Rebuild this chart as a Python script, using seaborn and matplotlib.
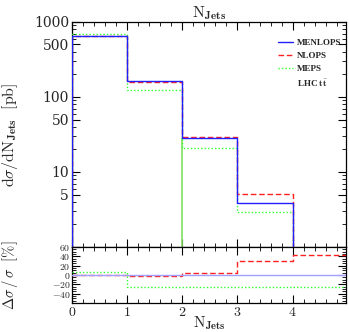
import matplotlib
matplotlib.use("Agg")
import matplotlib.pyplot as plt
import pandas as pd
import seaborn as sns
from matplotlib.lines import Line2D
from matplotlib.ticker import FixedLocator, FixedFormatter, MultipleLocator, NullFormatter

# bin edges of the N_Jets histogram
edges = [0, 1, 2, 3, 4, 5]

# main panel, d sigma / d N_Jets [pb]
menlops = [650, 163, 28.1, 3.9, 0.5]
nlops = [650, 160, 29.4, 5.1, 0.7]
meps = [700, 122, 21.0, 2.95, 0.37]

# ratio panel, delta sigma / sigma [%] with respect to MENLOPS
ratio_menlops = [0, 0, 0, 0, 0]
ratio_nlops = [0, -2, 4, 30, 42]
ratio_meps = [6, -25, -26, -26, -26]

y_ticks = [5, 10, 50, 100, 500, 1000]
y_ticklabels = ["5", "10", "50", "100", "500", "1000"]
r_ticks = [-40, -20, 0, 20, 40, 60]
r_ticklabels = ["$-40$", "$-20$", "$0$", "$20$", "$40$", "$60$"]
x_ticks = [0, 1, 2, 3, 4]

names = ["MENLOPS", "NLOPS", "MEPS"]
colors = {"MENLOPS": "#2020ff", "NLOPS": "#ff2020", "MEPS": "#30ff30"}
ratio_colors = {"MENLOPS": "#a0a0ff", "NLOPS": "#ff2020", "MEPS": "#30ff30"}
dashes = {"MENLOPS": "", "NLOPS": (4, 2), "MEPS": (1, 1.5)}
layer = {"MENLOPS": 5, "NLOPS": 4, "MEPS": 3}

sns.set_theme(style="ticks")
plt.rcParams["mathtext.fontset"] = "cm"
plt.rcParams["font.family"] = ["DejaVu Serif"]


def steps_frame(series, floor=None):
    rows = []
    for name, vals in series.items():
        xs = list(edges)
        ys = list(vals) + [vals[-1]]
        if floor is not None:
            xs = [edges[0]] + xs
            ys = [floor] + ys
        for x, y in zip(xs, ys):
            rows.append({"x": x, "y": y, "gen": name})
    return pd.DataFrame(rows)


def draw_steps(a, df, palette):
    # one lineplot call per generator so the stacking order is under control
    for name in ["MEPS", "NLOPS", "MENLOPS"]:
        sub = df[df["gen"] == name]
        sns.lineplot(data=sub, x="x", y="y", color=palette[name],
                     drawstyle="steps-post", sort=False, estimator=None,
                     lw=1.0, ax=a, legend=False)
        line = a.get_lines()[-1]
        if dashes[name]:
            line.set_dashes(dashes[name])
        line.set_zorder(layer[name])


fig = plt.figure(figsize=(3.49, 3.32), dpi=100)
ax = fig.add_axes([0.206, 0.256, 0.786, 0.678])
axr = fig.add_axes([0.206, 0.087, 0.786, 0.169], sharex=ax)

main_df = steps_frame({"MEPS": meps, "NLOPS": nlops, "MENLOPS": menlops}, floor=1e-3)
draw_steps(ax, main_df, colors)
ax.set_yscale("log")
# the MEPS edge at N_Jets = 2 drawn down to the axis
ax.vlines(edges[2], 1e-3, menlops[2], color="#80e060", lw=1.2, zorder=2)

ax.set_xlim(0, 4.97)
ax.set_ylim(1, 1000)
ax.yaxis.set_major_locator(FixedLocator(y_ticks))
ax.yaxis.set_major_formatter(FixedFormatter(y_ticklabels))
ax.yaxis.set_minor_locator(FixedLocator([2, 3, 4, 6, 7, 8, 9, 20, 30, 40, 60, 70, 80, 90,
                                         200, 300, 400, 600, 700, 800, 900]))
ax.yaxis.set_minor_formatter(NullFormatter())
ax.xaxis.set_major_locator(FixedLocator(x_ticks))
ax.xaxis.set_minor_locator(MultipleLocator(0.2))
ax.tick_params(axis="x", labelbottom=False)
ax.set_xlabel("")
ax.set_ylabel(r"$\mathrm{d}\sigma/\mathrm{dN}_{\mathbf{Jets}}\ \ [\mathrm{pb}]$", fontsize=11.5)
ax.yaxis.set_label_coords(-0.19, 0.5)
ax.set_title(r"$\mathrm{N}_{\mathbf{Jets}}$", fontsize=11.5, pad=2)

ratio_df = steps_frame({"MENLOPS": ratio_menlops, "MEPS": ratio_meps, "NLOPS": ratio_nlops})
draw_steps(axr, ratio_df, ratio_colors)
axr.set_ylim(-60, 60)
axr.yaxis.set_major_locator(FixedLocator(r_ticks))
axr.yaxis.set_major_formatter(FixedFormatter(r_ticklabels))
axr.yaxis.set_minor_locator(MultipleLocator(5))
axr.xaxis.set_major_formatter(FixedFormatter(["$%d$" % t for t in x_ticks]))
axr.set_xlabel(r"$\mathrm{N}_{\mathbf{Jets}}$", fontsize=11)
axr.xaxis.set_label_coords(0.5, -0.2)
axr.set_ylabel(r"$\Delta\sigma\,/\,\sigma\ \ [\%]$", fontsize=10.5)
axr.yaxis.set_label_coords(-0.19, 0.5)

for a in (ax, axr):
    a.tick_params(which="both", direction="in", top=True, right=True,
                  labelsize=10, pad=2, color="black")
    a.tick_params(which="major", length=6, width=0.8)
    a.tick_params(which="minor", length=3, width=0.6)
    for s in a.spines.values():
        s.set_color("black")
        s.set_linewidth(0.9)
axr.tick_params(axis="y", labelsize=7, pad=1)
axr.tick_params(axis="x", pad=1)

handles = [Line2D([], [], color=colors[n], dashes=dashes[n] if dashes[n] else (None, None),
                  lw=1.0) for n in names]
handles.append(Line2D([], [], color="none"))
labels = names + [r"LHC $\mathbf{t\bar{t}}$"]
ax.legend(handles, labels, loc="upper right", bbox_to_anchor=(0.995, 0.94),
          frameon=False, prop={"family": "Liberation Serif", "weight": "bold", "size": 6.5},
          handlelength=1.7, handletextpad=0.4, labelspacing=0.5, borderaxespad=0)

fig.savefig("out.png", dpi=100)
